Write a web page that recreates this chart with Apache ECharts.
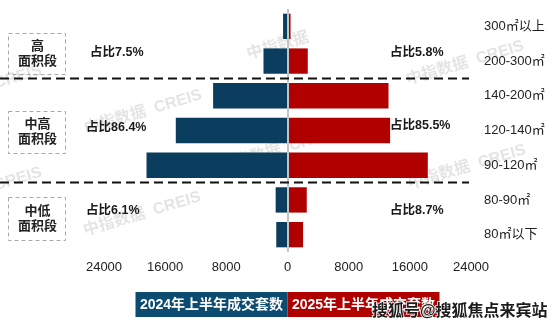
<!DOCTYPE html>
<html>
<head>
<meta charset="utf-8">
<script src="https://cdn.jsdelivr.net/npm/echarts@6/dist/echarts.min.js"></script>
<style>
  html, body { margin: 0; padding: 0; background: #fff; }
  #chart { width: 557px; height: 328px; }
</style>
</head>
<body>
<div id="chart"></div>
<script>
// Floor-area bands, top to bottom
const categories = ['300㎡以上', '200-300㎡', '140-200㎡', '120-140㎡', '90-120㎡', '80-90㎡', '80㎡以下'];
// Units sold, first half of each year
const sales2024 = [580, 3140, 9730, 14610, 18440, 1550, 1470];
const sales2025 = [400, 2650, 13210, 13420, 18350, 2520, 2040];
const seriesNames = ['2024年上半年成交套数', '2025年上半年成交套数'];
// Segment labels and their shares
const segmentNames = ['高\n面积段', '中高\n面积段', '中低\n面积段'];
const shares2024 = ['占比7.5%', '占比86.4%', '占比6.1%'];
const shares2025 = ['占比5.8%', '占比85.5%', '占比8.7%'];
// Value axis range and step
const axisMax = 24000;
const axisStep = 8000;

const FONT = "'Liberation Sans', Arial, 'Noto Sans CJK SC', sans-serif";
const BLUE = '#0a3d5e';
const RED = '#b00000';

const chart = echarts.init(document.getElementById('chart'));

chart.setOption({
  animation: false,
  backgroundColor: '#fff',
  grid: { left: 104, right: 86, top: 9, bottom: 76, containLabel: false },
  xAxis: {
    type: 'value',
    min: -axisMax,
    max: axisMax,
    interval: axisStep,
    axisLine: { show: false },
    axisTick: { show: false },
    splitLine: { show: false },
    axisLabel: {
      margin: 9,
      fontSize: 13,
      color: '#222',
      fontFamily: FONT,
      formatter: v => String(Math.abs(v))
    }
  },
  yAxis: {
    type: 'category',
    data: categories,
    inverse: true,
    position: 'right',
    axisLine: { show: false },
    axisTick: { show: false },
    axisLabel: { margin: 13, fontSize: 13, color: '#222', fontFamily: FONT }
  },
  series: [
    {
      name: seriesNames[0],
      type: 'bar',
      stack: 'units',
      barCategoryGap: '27%',
      itemStyle: { color: BLUE },
      data: sales2024.map(v => -v),
      z: 2
    },
    {
      name: seriesNames[1],
      type: 'bar',
      stack: 'units',
      barCategoryGap: '27%',
      itemStyle: { color: RED },
      data: sales2025,
      z: 2,
      markLine: {
        silent: true,
        symbol: 'none',
        label: { show: false },
        lineStyle: { color: '#c4c4c4', width: 2, type: 'solid' },
        data: [{ xAxis: 0 }]
      }
    }
  ]
});

// Overlay: group separators, segment boxes, share notes, legend, watermarks
function buildOverlay() {
  const yOf = i => chart.convertToPixel({ yAxisIndex: 0 }, i);
  const xRight = chart.convertToPixel({ xAxisIndex: 0 }, axisMax) - 2;
  const sepYs = [(yOf(1) + yOf(2)) / 2, (yOf(4) + yOf(5)) / 2];

  const els = [];

  // Watermarks (behind the bars)
  const wmStyle = { fill: 'rgba(0,0,0,0.11)', font: 'bold 16px ' + FONT, align: 'center', verticalAlign: 'middle' };
  const marks = [
    ['中指数据', 278, 46],
    ['中指数据  CREIS', 143, 112],
    ['中指数据  CREIS', 465, 63],
    ['中指数据  CREIS', 278, 150],
    ['中指数据  CREIS', 467, 167],
    ['中指数据  CREIS', 142, 214],
    ['CREIS', 18, 77],
    ['CREIS', 18, 179]
  ];
  marks.forEach(([t, x, y]) => {
    els.push({ type: 'text', x, y, rotation: 0.29, z: 0, silent: true, style: Object.assign({ text: t }, wmStyle) });
  });

  // Dashed separators between area segments
  sepYs.forEach(y => {
    els.push({
      type: 'line', z: 10, silent: true,
      shape: { x1: 0, y1: y, x2: xRight, y2: y },
      style: { stroke: '#111', lineWidth: 2, lineDash: [9, 5] }
    });
  });

  // Segment boxes on the left
  const boxes = [
    { y: 33, h: 41 },
    { y: 111, h: 42 },
    { y: 197, h: 43 }
  ];
  boxes.forEach((b, i) => {
    els.push({
      type: 'rect', z: 10, silent: true,
      shape: { x: 8.5, y: b.y + 0.5, width: 57, height: b.h },
      style: { fill: 'none', stroke: '#a8a8a8', lineWidth: 1, lineDash: [4, 3] }
    });
    els.push({
      type: 'text', z: 10, silent: true,
      x: 37.5, y: b.y + b.h / 2,
      style: {
        text: segmentNames[i], font: 'bold 13px ' + FONT, fill: '#222',
        align: 'center', verticalAlign: 'middle', lineHeight: 15
      }
    });
  });

  // Share notes
  const leftNotes = [[90, 53], [86, 128], [86, 211]];
  const rightNotes = [[390, 53], [390, 126], [390, 211]];
  const noteFont = 'bold 12.5px ' + FONT;
  leftNotes.forEach(([x, y], i) => {
    els.push({ type: 'text', z: 10, silent: true, x, y,
      style: { text: shares2024[i], font: noteFont, fill: '#1a1a1a', align: 'left', verticalAlign: 'middle' } });
  });
  rightNotes.forEach(([x, y], i) => {
    els.push({ type: 'text', z: 10, silent: true, x, y,
      style: { text: shares2025[i], font: noteFont, fill: '#1a1a1a', align: 'left', verticalAlign: 'middle' } });
  });

  // Legend blocks
  const zeroX = chart.convertToPixel({ xAxisIndex: 0 }, 0);
  const legW = 152, legTop = 292, legH = 25;
  [[zeroX - legW, '#0d4c71', seriesNames[0]], [zeroX, RED, seriesNames[1]]].forEach(([x, c, t]) => {
    els.push({ type: 'rect', z: 10, silent: true, shape: { x, y: legTop, width: legW, height: legH }, style: { fill: c } });
    els.push({ type: 'text', z: 11, silent: true, x: x + legW / 2, y: legTop + legH / 2 + 1,
      style: { text: t, font: 'bold 14px ' + FONT, fill: '#fff', align: 'center', verticalAlign: 'middle' } });
  });

  // Publisher stamp
  els.push({ type: 'text', z: 20, silent: true, x: 372, y: 312,
    style: { text: '搜狐号@搜狐焦点来宾站', font: 'bold 16px ' + FONT, fill: '#1c1c1c',
      stroke: '#fff', lineWidth: 1.5, align: 'left', verticalAlign: 'middle' } });

  chart.setOption({ graphic: { elements: els } });
}
buildOverlay();
</script>
</body>
</html>
